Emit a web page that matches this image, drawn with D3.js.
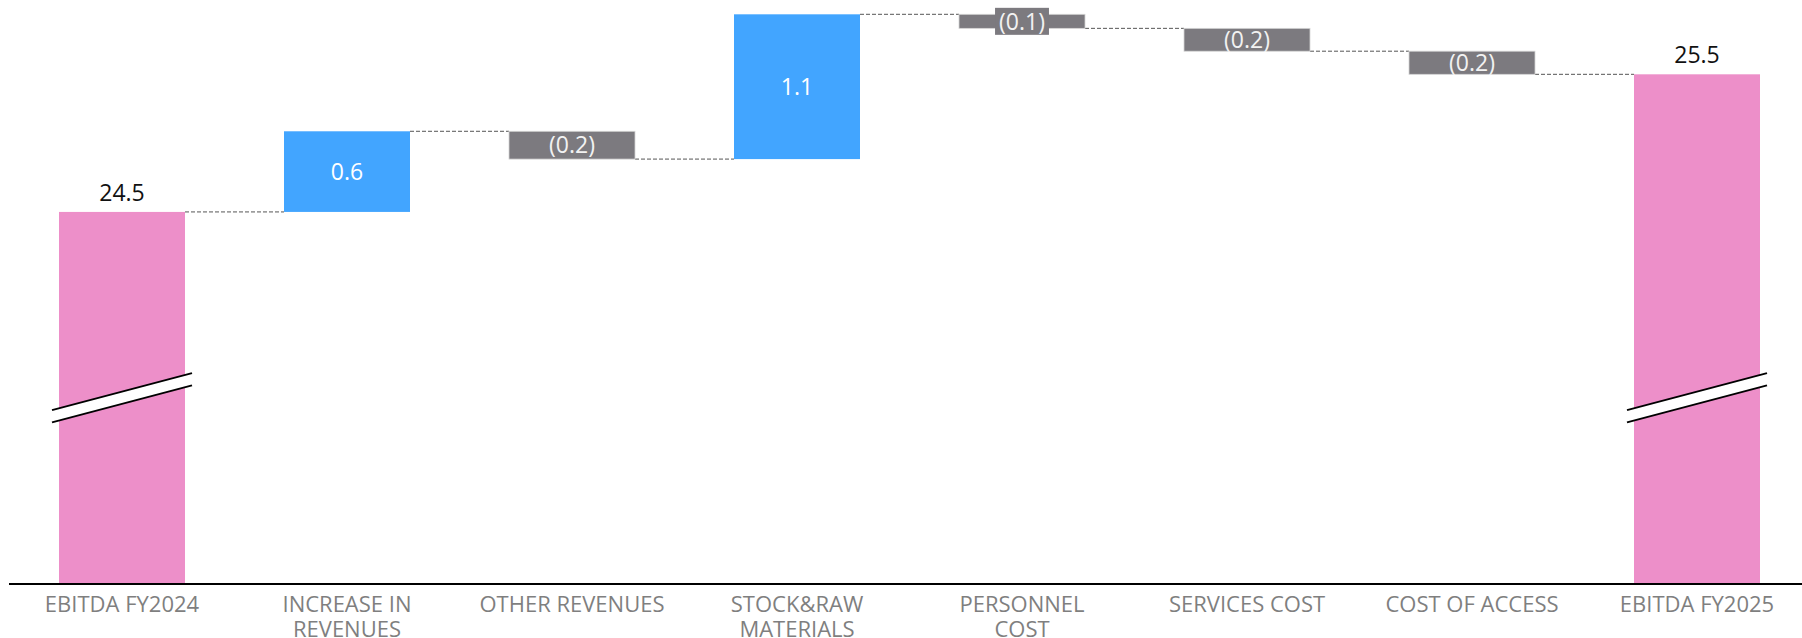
<!DOCTYPE html>
<html>
<head>
<meta charset="utf-8">
<script src="https://cdn.jsdelivr.net/npm/d3@7"></script>
<style>
  html, body { margin: 0; padding: 0; background: #fff; }
  svg { display: block; }
  text { font-family: "Open Sans", "Noto Sans", sans-serif; }
</style>
</head>
<body>
<svg id="chart" width="1802" height="638"></svg>
<script>
// EBITDA bridge FY2024 -> FY2025 (waterfall with broken axis)

const categories = [
  "EBITDA FY2024",
  "INCREASE IN\nREVENUES",
  "OTHER REVENUES",
  "STOCK&RAW\nMATERIALS",
  "PERSONNEL\nCOST",
  "SERVICES COST",
  "COST OF ACCESS",
  "EBITDA FY2025",
];
const startTotal = 24.5;
const endTotal = 25.5;
const deltas = [0.586, -0.202, 1.052, -0.102, -0.166, -0.168];
const axisDomain = [21.8, 26.04]; // broken axis: bars start at 21.8
const breakValue = 23.15;

(function () {
  const W = 1802, H = 638;
  const baseY = 583.5;
  const colors = { total: "#ED8FC9", up: "#42A5FF", down: "#7C7A7F" };

  const svg = d3.select("#chart");

  // running totals
  const rows = [];
  let run = startTotal;
  rows.push({ cat: categories[0], kind: "total", lo: axisDomain[0], hi: startTotal, value: startTotal, end: startTotal });
  deltas.forEach((d, i) => {
    const next = run + d;
    rows.push({
      cat: categories[i + 1],
      kind: d >= 0 ? "up" : "down",
      lo: Math.min(run, next),
      hi: Math.max(run, next),
      value: d,
      end: next,
    });
    run = next;
  });
  rows.push({ cat: categories[categories.length - 1], kind: "total", lo: axisDomain[0], hi: endTotal, value: endTotal, end: endTotal });

  const x = d3.scaleBand()
    .domain(rows.map((d) => d.cat))
    .range([9.5, 1809.5])
    .paddingInner(0.44)
    .paddingOuter(0.22);

  const y = d3.scaleLinear().domain(axisDomain).range([baseY, 0]);

  const fmt = (v) => (v < 0 ? `(${Math.abs(v).toFixed(1)})` : v.toFixed(1));

  // connectors
  const links = rows.slice(0, -1).map((d, i) => ({ a: d, b: rows[i + 1] }));
  svg.append("g").selectAll("line")
    .data(links)
    .join("line")
    .attr("x1", (d) => x(d.a.cat) + x.bandwidth())
    .attr("x2", (d) => x(d.b.cat))
    .attr("y1", (d) => y(d.a.end))
    .attr("y2", (d) => y(d.a.end))
    .attr("stroke", "#555")
    .attr("stroke-width", 1)
    .attr("stroke-dasharray", "4,2");

  // bars
  svg.append("g").selectAll("rect")
    .data(rows)
    .join("rect")
    .attr("x", (d) => x(d.cat))
    .attr("width", x.bandwidth())
    .attr("y", (d) => y(d.hi))
    .attr("height", (d) => y(d.lo) - y(d.hi))
    .attr("fill", (d) => colors[d.kind])
    .attr("stroke", (d) => (d.kind === "down" ? "#d4d4d4" : "none"))
    .attr("stroke-width", 0.8);

  // axis break marks on the total bars
  const totals = rows.filter((d) => d.kind === "total");
  const brk = svg.append("g");
  totals.forEach((d) => {
    const x0 = x(d.cat) - 7, x1 = x(d.cat) + x.bandwidth() + 7;
    const cy = y(breakValue);
    const rise = 18.5, gap = 6.2;
    brk.append("polygon")
      .attr("points", [
        [x0, cy + rise - gap], [x1, cy - rise - gap],
        [x1, cy - rise + gap], [x0, cy + rise + gap],
      ].map((p) => p.join(",")).join(" "))
      .attr("fill", "#fff");
    [-gap, gap].forEach((o) => {
      brk.append("line")
        .attr("x1", x0).attr("y1", cy + rise + o)
        .attr("x2", x1).attr("y2", cy - rise + o)
        .attr("stroke", "#000")
        .attr("stroke-width", 1.8);
    });
  });

  // baseline
  svg.append("line")
    .attr("x1", 9).attr("x2", W)
    .attr("y1", baseY + 0.5).attr("y2", baseY + 0.5)
    .attr("stroke", "#000")
    .attr("stroke-width", 2);

  // value labels
  const labels = svg.append("g").attr("font-size", 23);
  rows.forEach((d) => {
    const cx = x(d.cat) + x.bandwidth() / 2;
    if (d.kind === "total") {
      labels.append("text")
        .attr("x", cx)
        .attr("y", y(d.hi) - 11)
        .attr("text-anchor", "middle")
        .attr("fill", "#111")
        .text(fmt(d.value));
      return;
    }
    const cy = (y(d.lo) + y(d.hi)) / 2;
    const barH = y(d.lo) - y(d.hi);
    const t = labels.append("text")
      .attr("x", cx)
      .attr("y", cy)
      .attr("dy", "0.36em")
      .attr("text-anchor", "middle")
      .attr("fill", d.kind === "down" ? "#f2f2f2" : "#fff")
      .text(fmt(d.value));
    if (barH < 16) {
      const bb = t.node().getBBox();
      labels.insert("rect", () => t.node())
        .attr("x", cx - bb.width / 2 - 4)
        .attr("y", cy - 13.5)
        .attr("width", bb.width + 8)
        .attr("height", 27)
        .attr("fill", colors[d.kind]);
    }
  });

  // category labels
  const cats = svg.append("g")
    .attr("font-size", 22)
    .attr("fill", "#7f7f7f")
    .attr("text-anchor", "middle");
  rows.forEach((d) => {
    const t = cats.append("text")
      .attr("x", x(d.cat) + x.bandwidth() / 2)
      .attr("y", 612);
    d.cat.split("\n").forEach((line, i) => {
      t.append("tspan")
        .attr("x", x(d.cat) + x.bandwidth() / 2)
        .attr("dy", i === 0 ? 0 : 25)
        .text(line);
    });
  });
})();
</script>
</body>
</html>
